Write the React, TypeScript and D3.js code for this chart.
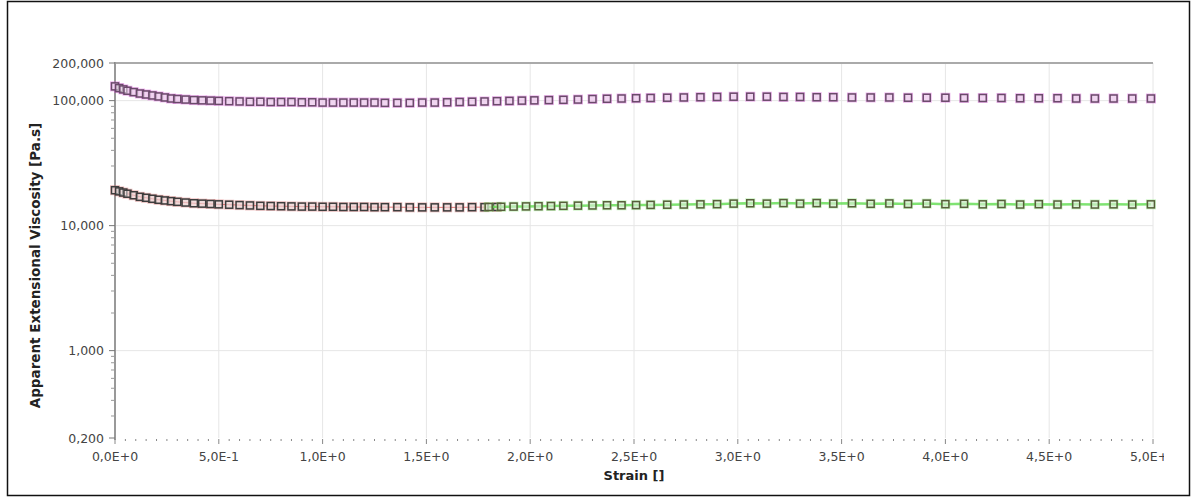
import React from "react";
import * as d3 from "d3";

// strain values (x) and apparent extensional viscosity (y)
const strainTop = [
  0.0, 0.02, 0.04, 0.06, 0.09, 0.12, 0.15, 0.18, 0.21, 0.24, 0.27, 0.3, 0.34, 0.38, 0.42, 0.46, 0.5,
  0.55, 0.6, 0.65, 0.7, 0.75, 0.8, 0.85, 0.9, 0.95, 1.0, 1.05, 1.1, 1.15, 1.2, 1.25, 1.3, 1.36,
  1.42, 1.48, 1.54, 1.6, 1.66, 1.72, 1.78, 1.84, 1.9, 1.96, 2.02, 2.09, 2.16, 2.23, 2.3, 2.37, 2.44,
  2.51, 2.58, 2.66, 2.74, 2.82, 2.9, 2.98, 3.06, 3.14, 3.22, 3.3, 3.38, 3.46, 3.55, 3.64, 3.73,
  3.82, 3.91, 4.0, 4.09, 4.18, 4.27, 4.36, 4.45, 4.54, 4.63, 4.72, 4.81, 4.9, 4.99,
];
const viscTop = [
  130000, 126000, 123000, 120000, 117000, 114000, 112000, 110000, 108000, 106000, 104000, 103000,
  102000, 101000, 100500, 100000, 99500, 99000, 98500, 98000, 98000, 97500, 97500, 97500, 97000,
  97000, 96500, 96500, 96500, 96500, 96500, 96500, 96000, 96000, 96000, 96500, 96500, 97000,
  97500, 98000, 98500, 99000, 99500, 100000, 100500, 101000, 101500, 102000, 103000, 103500,
  104000, 104500, 105000, 105500, 106000, 106500, 107000, 107500, 107500, 107500, 107000, 107000,
  106500, 106500, 106000, 106000, 106000, 105500, 105500, 105500, 105000, 105000, 105000, 104500,
  104500, 104500, 104000, 104000, 104000, 104000, 104000,
];

const strainLowA = [
  0.0, 0.02, 0.04, 0.06, 0.09, 0.12, 0.15, 0.18, 0.21, 0.24, 0.27, 0.3, 0.34, 0.38, 0.42, 0.46, 0.5,
  0.55, 0.6, 0.65, 0.7, 0.75, 0.8, 0.85, 0.9, 0.95, 1.0, 1.05, 1.1, 1.15, 1.2, 1.25, 1.3, 1.36,
  1.42, 1.48, 1.54, 1.6, 1.66, 1.72, 1.78, 1.84,
];
const viscLowA = [
  19200, 18800, 18400, 18000, 17500, 17000, 16700, 16400, 16100, 15900, 15700, 15500, 15300, 15100,
  15000, 14900, 14800, 14700, 14600, 14500, 14400, 14350, 14300, 14250, 14200, 14200, 14150,
  14150, 14100, 14100, 14100, 14050, 14050, 14050, 14000, 14000, 14000, 14000, 14000, 14050,
  14050, 14100,
];

const strainLowB = [
  1.8, 1.86, 1.92, 1.98, 2.04, 2.1, 2.16, 2.23, 2.3, 2.37, 2.44, 2.51, 2.58, 2.66, 2.74, 2.82, 2.9,
  2.98, 3.06, 3.14, 3.22, 3.3, 3.38, 3.46, 3.55, 3.64, 3.73, 3.82, 3.91, 4.0, 4.09, 4.18, 4.27,
  4.36, 4.45, 4.54, 4.63, 4.72, 4.81, 4.9, 4.99,
];
const viscLowB = [
  14100, 14150, 14200, 14250, 14300, 14350, 14400, 14450, 14500, 14550, 14550, 14600, 14650,
  14700, 14750, 14800, 14850, 15000, 15100, 15000, 15150, 15000, 15150, 15000, 15100, 14950,
  15050, 14900, 15000, 14850, 14950, 14800, 14900, 14750, 14850, 14750, 14800, 14750, 14800,
  14750, 14800,
];

const xTicks = [0, 0.5, 1, 1.5, 2, 2.5, 3, 3.5, 4, 4.5, 5];
const xTickLabels = [
  "0,0E+0", "5,0E-1", "1,0E+0", "1,5E+0", "2,0E+0", "2,5E+0",
  "3,0E+0", "3,5E+0", "4,0E+0", "4,5E+0", "5,0E+0",
];
const yTicks = [200, 1000, 10000, 100000, 200000];
const yTickLabels = ["0,200", "1,000", "10,000", "100,000", "200,000"];

const W = 1198;
const H = 497;
const margin = { left: 115, right: 45, top: 63, bottom: 59 };
const font = "'DejaVu Sans', Verdana, sans-serif";

function Series({ xs, ys, x, y, glow, mark, line, lineWidth }: any) {
  const pts = xs.map((v: number, i: number) => [x(v), y(ys[i])]);
  const path = d3.line()(pts);
  return (
    <g>
      {line && (
        <path d={path || ""} fill="none" stroke={line} strokeWidth={lineWidth} strokeOpacity={0.8} />
      )}
      {pts.map((p: number[], i: number) => (
        <rect key={"g" + i} x={p[0] - 5} y={p[1] - 5} width={10} height={10} fill={glow} opacity={0.4} />
      ))}
      {pts.map((p: number[], i: number) => (
        <rect
          key={"m" + i}
          x={p[0] - 3.5}
          y={p[1] - 3.5}
          width={7}
          height={7}
          fill="#f4f4f4"
          fillOpacity={0.5}
          stroke={mark}
          strokeWidth={1.5}
        />
      ))}
    </g>
  );
}

export default function App() {
  const x = d3.scaleLinear().domain([0, 5]).range([margin.left, W - margin.right]);
  const y = d3.scaleLog().domain([200, 200000]).range([H - margin.bottom, margin.top]);
  const x0 = x.range()[0];
  const x1 = x.range()[1];
  const yb = y.range()[0];
  const yt = y.range()[1];

  const minorX = d3.range(0, 101).map((i) => i * 0.05);
  const minorY: number[] = [];
  [100, 1000, 10000, 100000].forEach((d) => {
    for (let k = 2; k <= 9; k++) {
      const v = d * k;
      if (v > 200 && v < 200000) minorY.push(v);
    }
  });

  return (
    <svg width={W} height={H} style={{ position: "absolute", left: 0, top: 0, background: "#fff" }}>
      <defs>
        <clipPath id="lblclip">
          <rect x={0} y={0} width={1164} height={H} />
        </clipPath>
      </defs>
      <rect x={7.5} y={1.5} width={1182} height={494} fill="#fff" stroke="#111" strokeWidth={1.5} />

      {/* grid */}
      {xTicks.slice(1).map((t) => (
        <line key={"gx" + t} x1={x(t)} x2={x(t)} y1={yt} y2={yb} stroke="#e6e6e6" strokeWidth={1} />
      ))}
      {[1000, 10000, 100000].map((t) => (
        <line key={"gy" + t} x1={x0} x2={x1} y1={y(t)} y2={y(t)} stroke="#e6e6e6" strokeWidth={1} />
      ))}

      {/* frame lines */}
      <line x1={x0} x2={x1} y1={yt} y2={yt} stroke="#aaa" strokeWidth={2} />
      <line x1={x0} x2={x0} y1={yt - 1} y2={yb + 2} stroke="#999" strokeWidth={2} />

      {/* x ticks */}
      {minorX.map((t, i) => (
        <line
          key={"mx" + i}
          x1={x(t)}
          x2={x(t)}
          y1={yb + 1}
          y2={yb + (i % 10 === 0 ? 6 : 3)}
          stroke="#888"
          strokeWidth={1}
        />
      ))}
      <g clipPath="url(#lblclip)">
        {xTicks.map((t, i) => (
          <text
            key={"xl" + t}
            x={x(t)}
            y={yb + 23}
            textAnchor="middle"
            fontFamily={font}
            fontSize={12.5}
            fill="#444"
          >
            {xTickLabels[i]}
          </text>
        ))}
      </g>

      {/* y ticks */}
      {yTicks.map((t, i) => (
        <g key={"yt" + t}>
          <line x1={x0 - 6} x2={x0} y1={y(t)} y2={y(t)} stroke="#777" strokeWidth={1} />
          <text
            x={x0 - 11}
            y={y(t) + 4.5}
            textAnchor="end"
            fontFamily={font}
            fontSize={12.5}
            fill="#444"
          >
            {yTickLabels[i]}
          </text>
        </g>
      ))}
      {minorY.map((t) => (
        <line key={"my" + t} x1={x0 - 4} x2={x0 - 1} y1={y(t)} y2={y(t)} stroke="#999" strokeWidth={1} />
      ))}

      {/* data */}
      <Series xs={strainTop} ys={viscTop} x={x} y={y} glow="#d448d4" mark="#6b4a6b" />
      <Series
        xs={strainLowA}
        ys={viscLowA}
        x={x}
        y={y}
        glow="#d86a6a"
        mark="#3d3d3d"
        line="#d55"
        lineWidth={1}
      />
      <Series
        xs={strainLowB}
        ys={viscLowB}
        x={x}
        y={y}
        glow="#7de06a"
        mark="#56603a"
        line="#5fdc4f"
        lineWidth={2.5}
      />

      {/* axis titles */}
      <text
        transform={`translate(40,${(yt + yb) / 2 + 15}) rotate(-90)`}
        textAnchor="middle"
        fontFamily={font}
        fontSize={13.5}
        fontWeight="bold"
        fill="#222"
      >
        Apparent Extensional Viscosity [Pa.s]
      </text>
      <text
        x={(x0 + x1) / 2}
        y={yb + 42}
        textAnchor="middle"
        fontFamily={font}
        fontSize={13}
        fontWeight="bold"
        fill="#222"
      >
        Strain []
      </text>
    </svg>
  );
}
